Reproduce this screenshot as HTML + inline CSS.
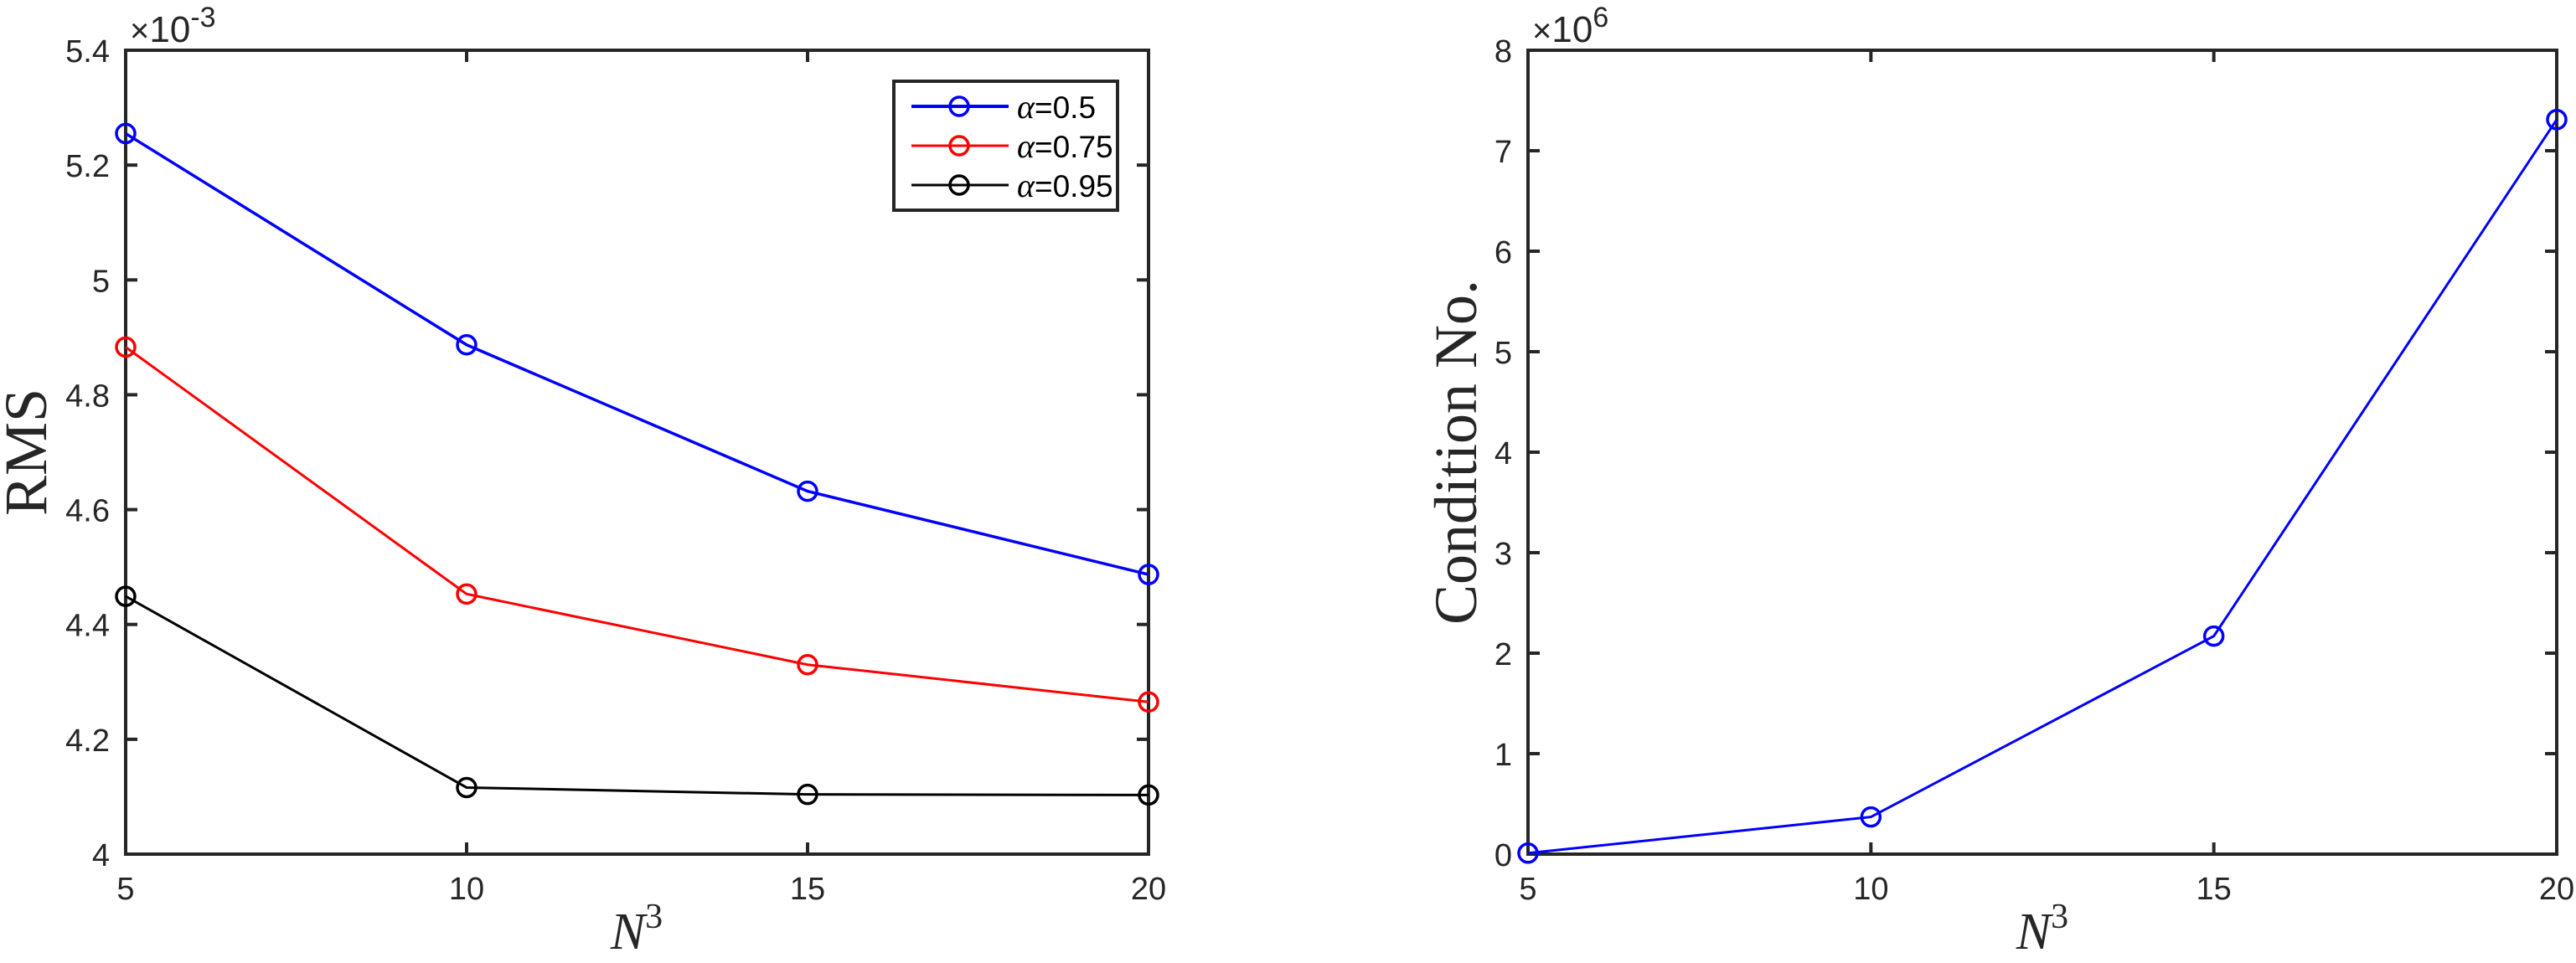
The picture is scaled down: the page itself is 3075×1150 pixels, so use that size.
<!DOCTYPE html>
<html><head><meta charset="utf-8"><style>
html,body{margin:0;padding:0;background:#fff;}
svg text{font-family:"Liberation Sans",sans-serif;fill:#262626;}
.ser{font-family:"Liberation Serif",serif;}
</style></head><body>
<svg id="fig" width="3075" height="1145" viewBox="0 0 3075 1145" xmlns="http://www.w3.org/2000/svg"></svg>
<script>
const xCats = [5, 10, 15, 20];
const rmsBlue = [5.255, 4.887, 4.632, 4.487];
const rmsRed = [4.883, 4.453, 4.330, 4.265];
const rmsBlack = [4.449, 4.116, 4.104, 4.103];
const condVals = [0.01, 0.37, 2.17, 7.31];
const leftYTicks = ["4", "4.2", "4.4", "4.6", "4.8", "5", "5.2", "5.4"];
const rightYTicks = ["0", "1", "2", "3", "4", "5", "6", "7", "8"];
const xTicks = ["5", "10", "15", "20"];
const legendLabels = ["=0.5", "=0.75", "=0.95"];

const NS = "http://www.w3.org/2000/svg";
const svg = document.getElementById('fig');
function mk(tag, attrs, parent, text){
  const e = document.createElementNS(NS, tag);
  for (const k in attrs) e.setAttribute(k, attrs[k]);
  if (text !== undefined) e.textContent = text;
  (parent || svg).appendChild(e);
  return e;
}
function makeAxes(name, x0, x1, y0, y1, xmin, xmax, ymin, ymax){
  const g = mk('g', {});
  
  
  return {g, x0, x1, y0, y1,
    sx: v => x0 + (v - xmin) / (xmax - xmin) * (x1 - x0),
    sy: v => y1 - (v - ymin) / (ymax - ymin) * (y1 - y0)};
}
function drawFrame(ax, yTicks, yMin, yStep){
  const g = ax.g;
  mk('rect', {x: ax.x0, y: ax.y0, width: ax.x1 - ax.x0, height: ax.y1 - ax.y0, fill: 'none', stroke: '#262626', 'stroke-width': 4}, g);
  xTicks.forEach((t, i) => {
    const x = ax.sx(+t);
    mk('line', {x1: x, x2: x, y1: ax.y1, y2: ax.y1 - 14, stroke: '#262626', 'stroke-width': 4}, g);
    mk('line', {x1: x, x2: x, y1: ax.y0, y2: ax.y0 + 14, stroke: '#262626', 'stroke-width': 4}, g);
    const tl = mk('text', {x: x, y: ax.y1 + 54, 'font-size': 38, 'text-anchor': 'middle'}, g, t);
    
    
  });
  yTicks.forEach((t, i) => {
    const y = ax.sy(yMin + i * yStep);
    mk('line', {x1: ax.x0, x2: ax.x0 + 14, y1: y, y2: y, stroke: '#262626', 'stroke-width': 4}, g);
    mk('line', {x1: ax.x1, x2: ax.x1 - 14, y1: y, y2: y, stroke: '#262626', 'stroke-width': 4}, g);
    const tl = mk('text', {x: ax.x0 - 19, y: y + 14, 'font-size': 38, 'text-anchor': 'end'}, g, t);
    
    
  });
}
function drawSeries(ax, vals, color, w, name){
  const g = mk('g', {}, ax.g);
  
  
  const pts = vals.map((v, i) => ax.sx(xCats[i]) + ',' + ax.sy(v)).join(' ');
  mk('polyline', {points: pts, fill: 'none', stroke: color, 'stroke-width': w}, g);
  vals.forEach((v, i) => {
    const c = mk('circle', {cx: ax.sx(xCats[i]), cy: ax.sy(v), r: 11, fill: 'none', stroke: color, 'stroke-width': 3.5}, g);
    
    
  });
}
function expLabel(parent, x, exp){
  const t = mk('text', {x: x, y: 50, 'font-size': 44}, parent);
  
  
  mk('tspan', {'font-size': 40}, t, '×');
  mk('tspan', {}, t, '10');
  mk('tspan', {dy: -18, 'font-size': 34}, t, exp);
}
function xTitle(parent, cx){
  const t = mk('text', {x: cx, y: 1133, 'font-size': 62, 'text-anchor': 'middle', class: 'ser'}, parent);
  
  
  mk('tspan', {'font-style': 'italic'}, t, 'N');
  mk('tspan', {dy: -25, 'font-size': 42}, t, '3');
}

// Left chart
const L = makeAxes('rms-chart', 150, 1371, 60, 1020, 5, 20, 4.0, 5.4);
drawFrame(L, leftYTicks, 4.0, 0.2);
drawSeries(L, rmsBlue, '#0000ff', 3.5, 'series-alpha-0.5');
drawSeries(L, rmsRed, '#ff0000', 3, 'series-alpha-0.75');
drawSeries(L, rmsBlack, '#000000', 3, 'series-alpha-0.95');
expLabel(L.g, 155, '-3');
const ly = mk('text', {x: 0, y: 0, 'font-size': 72, 'text-anchor': 'middle', class: 'ser', transform: 'translate(55,540) rotate(-90)'}, L.g, 'RMS');


xTitle(L.g, 760);

// Legend
const lg = mk('g', {}, L.g);


mk('rect', {x: 1067, y: 97, width: 267, height: 154, fill: '#fff', stroke: '#262626', 'stroke-width': 4}, lg);
const lcols = ['#0000ff', '#ff0000', '#000000'];
const lws = [4, 3, 3];
legendLabels.forEach((t, i) => {
  const y = 127 + i * 47;
  const e = mk('g', {}, lg);
  
  
  mk('line', {x1: 1088, x2: 1204, y1: y, y2: y, stroke: lcols[i], 'stroke-width': lws[i]}, e);
  mk('circle', {cx: 1145, cy: y, r: 11, fill: 'none', stroke: lcols[i], 'stroke-width': 3.5}, e);
  const tx = mk('text', {x: 1214, y: y + 14, 'font-size': 37, style: 'fill:#000'}, e);
  mk('tspan', {class: 'ser', 'font-style': 'italic', 'font-size': 40, style: 'fill:#000'}, tx, 'α');
  mk('tspan', {style: 'fill:#000'}, tx, t);
});

// Right chart
const R = makeAxes('condition-chart', 1824, 3052, 60, 1020, 5, 20, 0, 8);
drawFrame(R, rightYTicks, 0, 1);
drawSeries(R, condVals, '#0000ff', 3, 'series-condition-number');
expLabel(R.g, 1829, '6');
const ry = mk('text', {x: 0, y: 0, 'font-size': 72, 'text-anchor': 'middle', class: 'ser', transform: 'translate(1762,540) rotate(-90)'}, R.g, 'Condition No.');


xTitle(R.g, 2438);
</script>
</body></html>
